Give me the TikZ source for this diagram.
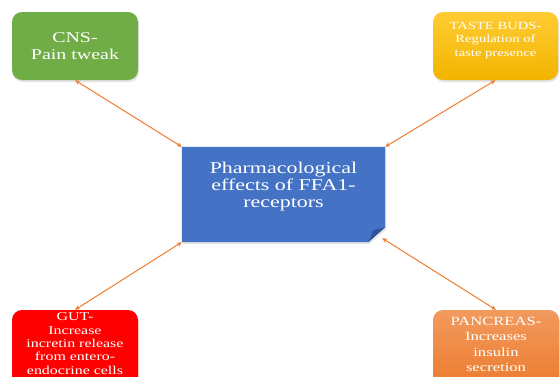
\documentclass[tikz,border=0pt]{standalone}
\usepackage{fontspec}
\setmainfont[FakeStretch=1.33]{Liberation Serif}
\usetikzlibrary{arrows.meta,shadows}
\definecolor{cnsgreen}{HTML}{70AD47}
\definecolor{mainblue}{HTML}{4472C4}
\definecolor{folddark}{HTML}{2F5597}
\definecolor{gutred}{HTML}{FF0000}
\definecolor{tastetop}{HTML}{FFCC33}
\definecolor{tastebot}{HTML}{F2B400}
\definecolor{pantop}{HTML}{F29A5E}
\definecolor{panbot}{HTML}{EC7A2C}
\definecolor{arrowc}{HTML}{ED7D31}
\begin{document}
\begin{tikzpicture}[x=1pt,y=-1pt,
  organ/.style={rectangle, rounded corners=10pt, inner sep=0pt, align=center, text=white,
    drop shadow={opacity=0.22, shadow xshift=1pt, shadow yshift=-2pt}},
  label/.style={inner sep=0pt, align=center, text=white},
  link/.style={draw=arrowc, line width=1pt, {Stealth[length=5pt,width=4.5pt]}-{Stealth[length=5pt,width=4.5pt]}}]
\useasboundingbox (0,0) rectangle (560,376);
\clip (0,0) rectangle (560,376);
\fill[white] (0,0) rectangle (560,376);

% organ boxes
\node[organ, fill=cnsgreen, minimum width=126pt, minimum height=68pt,
      font=\fontsize{15}{16.5}\selectfont] (cns) at (75,46) {CNS-\\Pain tweak};
\node[organ, top color=tastetop, bottom color=tastebot, minimum width=125pt, minimum height=68pt] (taste) at (495.5,46) {};
\node[label, font=\fontsize{11}{13.7}\selectfont] (tastetext) at (495.5,40.5) {TASTE BUDS-\\Regulation of\\taste presence};
\node[organ, fill=gutred, minimum width=126pt, minimum height=80pt] (gut) at (75,350) {};
\node[label, font=\fontsize{12}{13.3}\selectfont] (guttext) at (75,343.5) {GUT-\\Increase\\incretin release\\from entero-\\endocrine cells};
\node[organ, top color=pantop, bottom color=panbot, minimum width=126pt, minimum height=80pt] (pan) at (496,350) {};
\node[label, font=\fontsize{12.5}{15.3}\selectfont] (pantext) at (496,344.5) {PANCREAS-\\Increases\\insulin\\secretion};

% central folded-corner box
\node[inner sep=0pt, minimum width=203pt, minimum height=95pt] (main) at (283.5,194.5) {};
\fill[mainblue, drop shadow={opacity=0.22, shadow xshift=1pt, shadow yshift=-2pt}]
  (main.north west) -- (main.north east) -- ([yshift=15pt]main.south east)
  -- ([xshift=-17pt]main.south east) -- (main.south west) -- cycle;
\fill[folddark] ([yshift=15pt]main.south east) -- ([xshift=-17pt]main.south east)
  -- ([xshift=-12pt,yshift=12pt]main.south east) -- cycle;
\node[label, font=\fontsize{16.5}{17}\selectfont] (maintext) at (283.5,187)
  {Pharmacological\\effects of FFA1-\\receptors};
\coordinate (fold) at ([xshift=-3pt,yshift=4pt]main.south east);

% connectors
\draw[link] (cns.south) -- (main.north west);
\draw[link] (taste.south) -- (main.north east);
\draw[link] (gut.north) -- (main.south west);
\draw[link] (pan.north) -- (fold);
\end{tikzpicture}
\end{document}
